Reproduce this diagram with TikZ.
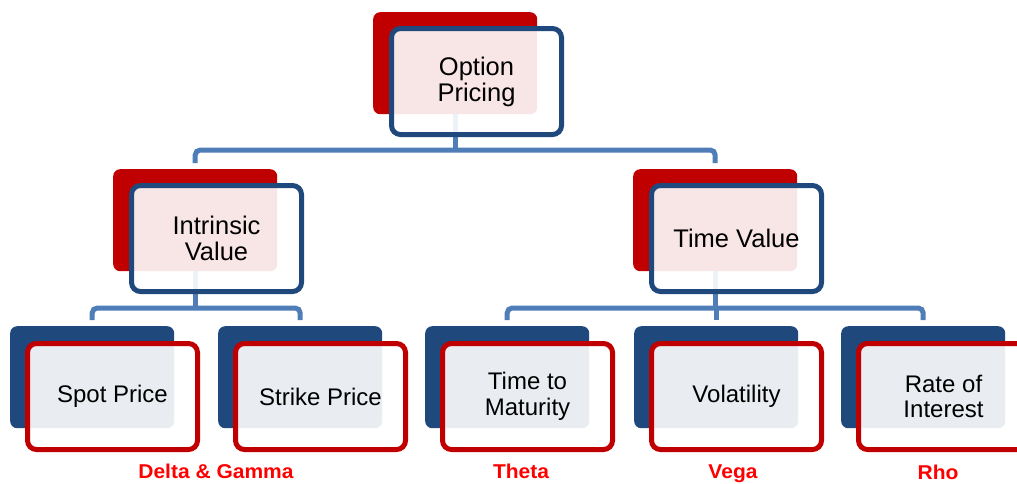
\documentclass[tikz,border=0pt]{standalone}
\usepackage{fontspec}
\setmainfont{Liberation Sans}
\definecolor{dred}{HTML}{C00000}
\definecolor{dblue}{HTML}{1F497D}
\definecolor{connc}{HTML}{4F7DB8}
\definecolor{labred}{HTML}{FF0000}
\begin{document}
\begin{tikzpicture}[x=1pt,y=-1pt,
  backbox/.style={rounded corners=7pt, minimum width=164pt, minimum height=102pt, inner sep=0pt, anchor=north west},
  frontbox/.style={rounded corners=9pt, line width=5pt, fill=white, fill opacity=0.9, draw opacity=1, text opacity=1,
    minimum width=170pt, minimum height=106pt, inner sep=0pt, anchor=north west, align=center, text=black},
  topfont/.style={font=\fontsize{25.5}{26}\selectfont},
  botfont/.style={font=\fontsize{24}{25.5}\selectfont},
  connector/.style={draw=connc, line width=5pt, rounded corners=5pt},
  greek/.style={anchor=base, text=labred, font=\bfseries\fontsize{20}{21}\selectfont}
]
\useasboundingbox (0,0) rectangle (1017,483);
\clip (0,0) rectangle (1017,483);

% back shapes
\node[backbox, fill=dred] (opb) at (373,12) {};
\node[backbox, fill=dred] (ivb) at (113,169) {};
\node[backbox, fill=dred] (tvb) at (633,169) {};
\node[backbox, fill=dblue] (spb) at (10,326) {};
\node[backbox, fill=dblue] (stb) at (218,326) {};
\node[backbox, fill=dblue] (tmb) at (425,326) {};
\node[backbox, fill=dblue] (vob) at (634,326) {};
\node[backbox, fill=dblue] (rib) at (841,326) {};

% connectors level 1
\draw[connector] (opb.south) -- (opb.south |- 0,150);
\draw[connector] ([yshift=6pt]ivb.north) -- (ivb.north |- 0,150) -- (tvb.north |- 0,150) -- ([yshift=6pt]tvb.north);
% connectors level 2 left
\draw[connector] (ivb.south) -- (ivb.south |- 0,308);
\draw[connector] ([yshift=6pt]spb.north) -- (spb.north |- 0,308) -- (stb.north |- 0,308) -- ([yshift=6pt]stb.north);
% connectors level 2 right
\draw[connector] (tvb.south) -- (tvb.south |- 0,308);
\draw[connector] ([yshift=6pt]tmb.north) -- (tmb.north |- 0,308) -- (rib.north |- 0,308) -- ([yshift=6pt]rib.north);
\draw[connector] (vob.north |- 0,308) -- ([yshift=6pt]vob.north);

% front shapes
\node[frontbox, draw=dblue, topfont] (op) at (389,26) {Option\\Pricing};
\node[frontbox, draw=dblue, topfont] (iv) at (129,183) {Intrinsic\\Value};
\node[frontbox, draw=dblue, topfont] (tv) at (649,183) {Time Value};
\node[frontbox, draw=dred, botfont] (sp) at (25,341) {Spot Price};
\node[frontbox, draw=dred, botfont] (st) at (233,341) {Strike Price};
\node[frontbox, draw=dred, botfont] (tm) at (440,341) {Time to\\Maturity};
\node[frontbox, draw=dred, botfont] (vo) at (649,341) {Volatility};
\node[frontbox, draw=dred, botfont] (ri) at (856,341) {Rate of\\Interest};

% greek labels
\node[greek] (g1) at (216,478) {\scalebox{1.05}[1]{Delta \& Gamma}};
\node[greek] (g2) at (521,478) {\scalebox{1.05}[1]{Theta}};
\node[greek] (g3) at (733,478) {\scalebox{1.05}[1]{Vega}};
\node[greek] (g4) at (938,479.5) {\scalebox{1.05}[1]{Rho}};
\end{tikzpicture}
\end{document}
